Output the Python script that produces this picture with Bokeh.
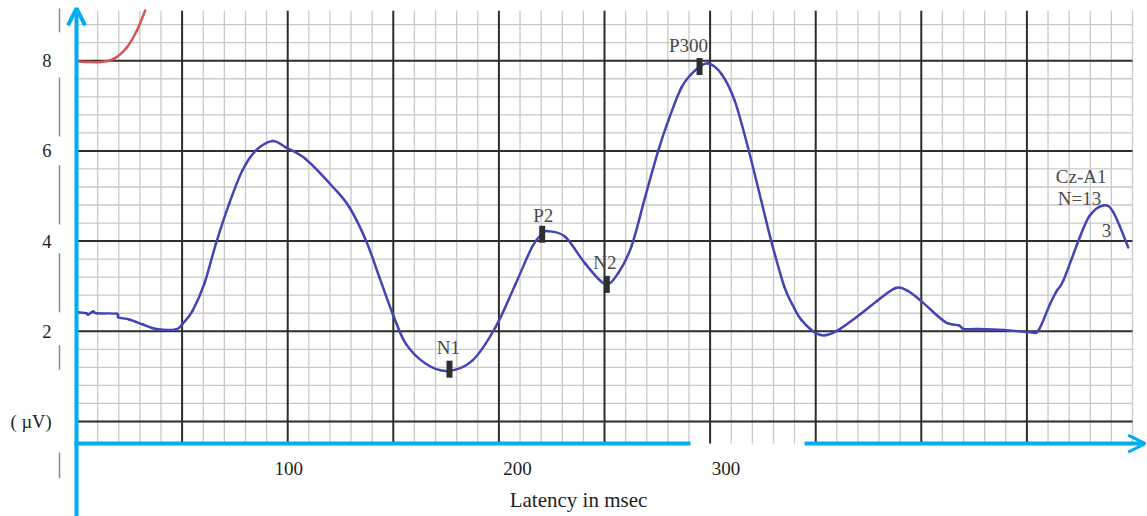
import numpy as np
from bokeh.plotting import figure
from bokeh.models import Range1d, Arrow, OpenHead, ColumnDataSource
from bokeh.core.properties import value
from bokeh.embed import file_html
from bokeh.resources import INLINE

# ---------------- data ----------------
latency_ms = [0.8, 4.7, 5.5, 7.9, 9.5, 19.0, 19.8, 25.0, 31.5, 37.7, 47.0, 50.3, 55.0,
              60.5, 66.0, 72.3, 78.6, 85.0, 92.8, 99.0, 108.5, 121.4, 129.2, 137.1,
              143.4, 149.7, 156.0, 165.4, 175.6, 187.4, 198.4, 207.9, 215.7, 220.4,
              223.6, 231.5, 240.9, 250.3, 256.6, 262.9, 269.2, 275.5, 280.2, 286.5,
              292.8, 299.0, 305.3, 311.6, 317.9, 324.2, 328.9, 335.2, 340.0, 343.1,
              349.4, 354.1, 360.4, 371.4, 379.2, 387.9, 393.4, 399.7, 407.5, 412.3,
              417.8, 420.1, 426.4, 439.0, 451.6, 455.5, 461.0, 464.2, 467.3, 475.1,
              479.8, 486.2, 490.9, 498.0]
amplitude_uv = [2.42, 2.40, 2.37, 2.44, 2.40, 2.39, 2.31, 2.26, 2.15, 2.05, 2.04, 2.17, 2.46,
                3.05, 3.94, 4.83, 5.57, 6.01, 6.22, 6.08, 5.82, 5.20, 4.75, 4.01,
                3.20, 2.39, 1.72, 1.28, 1.12, 1.35, 2.09, 3.05, 3.87, 4.16,
                4.22, 4.09, 3.50, 3.05, 3.30, 3.90, 4.97, 6.01, 6.67, 7.41,
                7.78, 7.94, 7.71, 7.12, 6.08, 4.90, 4.01, 2.98, 2.50, 2.26,
                1.98, 1.91, 2.02, 2.39, 2.68, 2.96, 2.90, 2.68, 2.35, 2.18,
                2.13, 2.05, 2.05, 2.03, 1.98, 2.02, 2.61, 2.90, 3.13, 4.09,
                4.57, 4.79, 4.64, 3.86]

red_latency_ms = [0.3, 11.3, 17.6, 23.9, 28.6, 32.5]
red_amplitude_uv = [7.98, 7.97, 8.04, 8.30, 8.67, 9.11]

peak_names = ["N1", "P2", "N2", "P300"]
peak_latency_ms = [176.6, 220.5, 251.1, 295.0]
peak_amplitude_uv = [1.16, 4.15, 3.04, 7.87]

y_ticks = [0, 2, 4, 6, 8]
y_tick_labels = ["( µV)", "2", "4", "6", "8"]
x_tick_values = [100, 200, 300]
x_tick_labels = ["100", "200", "300"]
x_title = "Latency in msec"

info_texts = ["Cz-A1", "N=13", "3"]
info_latency_ms = [475.7, 474.9, 487.7]
info_amplitude_uv = [5.43, 4.94, 4.24]

# ---------------- layout / style ----------------
W, H = 1147, 516
PX_PER_MS, PX_PER_UV = 2.112, 45.1
LEFT_PX, ZERO_PX = 76, 421            # pixel of 0 ms / 0 uV
X_LO = -LEFT_PX / PX_PER_MS
X_HI = (W - LEFT_PX) / PX_PER_MS
Y_HI = ZERO_PX / PX_PER_UV
Y_LO = (ZERO_PX - H) / PX_PER_UV

GRID_X = (0, 500)         # grid area in data units
GRID_Y = (-0.49, 9.11)

BLUE_AXIS = "#00aeef"
CURVE = "#4444b4"
RED = "#d05555"
DARK = "#2e2e2e"
LIGHT = "#c9c9c9"
FONT = "Liberation Serif"

p = figure(width=W, height=H, output_backend="svg", toolbar_location=None,
           x_range=Range1d(X_LO, X_HI), y_range=Range1d(Y_LO, Y_HI), title=None,
           x_axis_type=None, y_axis_type=None, min_border=0)
p.min_border_left = p.min_border_right = p.min_border_top = p.min_border_bottom = 0
p.outline_line_color = None
p.background_fill_color = "white"
p.border_fill_color = "white"
p.xgrid.visible = False
p.ygrid.visible = False

# ---------------- grid ----------------
vx_minor = np.arange(GRID_X[0], GRID_X[1] + 1, 10)
hy_minor = np.round(np.arange(0, GRID_Y[1], 0.4), 2)
vx_major = np.arange(GRID_X[0], GRID_X[1] + 1, 50)
hy_major = np.arange(0, GRID_Y[1], 2)

p.segment(x0=vx_minor, y0=GRID_Y[0], x1=vx_minor, y1=GRID_Y[1], line_color=LIGHT, line_width=1.3)
p.segment(x0=GRID_X[0], y0=hy_minor, x1=GRID_X[1], y1=hy_minor, line_color=LIGHT, line_width=1.3)
p.segment(x0=vx_major[1:-1], y0=GRID_Y[0], x1=vx_major[1:-1], y1=GRID_Y[1], line_color=DARK, line_width=2)
p.segment(x0=GRID_X[0], y0=hy_major, x1=GRID_X[1], y1=hy_major, line_color=DARK, line_width=2)


# ---------------- curves (smooth Catmull-Rom rendering through the read points) ----------------
def smooth(xs, ys, **kw):
    x = np.asarray(xs, float)
    y = np.asarray(ys, float)
    xp = np.concatenate([[x[0]], x, [x[-1]]])
    yp = np.concatenate([[y[0]], y, [y[-1]]])
    n = len(x)
    i = np.arange(1, n)
    p.bezier(x0=xp[i], y0=yp[i], x1=xp[i + 1], y1=yp[i + 1],
             cx0=xp[i] + (xp[i + 1] - xp[i - 1]) / 6, cy0=yp[i] + (yp[i + 1] - yp[i - 1]) / 6,
             cx1=xp[i + 1] - (xp[i + 2] - xp[i]) / 6, cy1=yp[i + 1] - (yp[i + 2] - yp[i]) / 6,
             line_cap="round", **kw)


smooth(red_latency_ms, red_amplitude_uv, line_color=RED, line_width=2.5)
smooth(latency_ms, amplitude_uv, line_color=CURVE, line_width=2.5)

# ---------------- peak markers and labels ----------------
pk = ColumnDataSource(dict(x=peak_latency_ms, y=peak_amplitude_uv, name=peak_names,
                           dx=[-1, 1, -2, -11], dy=[-21.5, -19, -22, -21]))
p.rect(x="x", y="y", width=6, height=17, width_units="screen", height_units="screen",
       source=pk, fill_color="#2f2f2f", line_color=None)
p.text(x="x", y="y", text="name", x_offset="dx", y_offset="dy", source=pk,
       text_align="center", text_baseline="middle", text_font=value(FONT),
       text_font_size="19px", text_color="#4a4a4a")

p.text(x=info_latency_ms, y=info_amplitude_uv, text=info_texts, text_align="center",
       text_baseline="middle", text_font=value(FONT), text_font_size="19px",
       text_color="#4a4a4a")

# ---------------- tick labels ----------------
p.text(x=[-11.8] * len(y_ticks), y=y_ticks, text=y_tick_labels, text_align="right",
       text_baseline="middle", text_font=value(FONT), text_font_size="18.5px",
       text_color="#1e1e1e")
p.text(x=x_tick_values, y=[-1.04] * len(x_tick_values), text=x_tick_labels,
       x_offset=[1, 18.6, 16], text_align="center", text_baseline="middle",
       text_font=value(FONT), text_font_size="19px", text_color="#1e1e1e")
p.text(x=[237.7], y=[-1.75], text=[x_title], text_align="center", text_baseline="middle",
       text_font=value(FONT), text_font_size="21px", text_color="#1e1e1e")

# ---------------- blue axes with arrows ----------------
p.segment(x0=[0], y0=[Y_LO - 0.2], x1=[0], y1=[9.12], line_color=BLUE_AXIS, line_width=4)
p.add_layout(Arrow(x_start=0, y_start=8.6, x_end=0, y_end=9.16,
                   line_color=BLUE_AXIS, line_width=4, line_alpha=0,
                   end=OpenHead(size=17, line_color=BLUE_AXIS, line_width=4)))
p.segment(x0=[-0.9, 344.7], y0=[GRID_Y[0]] * 2, x1=[290.7, 505.6], y1=[GRID_Y[0]] * 2,
          line_color=BLUE_AXIS, line_width=4)
p.add_layout(Arrow(x_start=500, y_start=GRID_Y[0], x_end=506.0, y_end=GRID_Y[0],
                   line_color=BLUE_AXIS, line_width=4, line_alpha=0,
                   end=OpenHead(size=17, line_color=BLUE_AXIS, line_width=3)))

# ---------------- grey broken guide left of the axis ----------------
g_top = [9.16, 7.63, 5.68, 3.73, 1.69, -0.69]
g_bot = [8.63, 6.32, 4.37, 2.42, 1.15, -1.26]
p.segment(x0=[-8.05] * 6, y0=g_top, x1=[-8.05] * 6, y1=g_bot, line_color="#8c8c8c", line_width=1.5)

open("out.html", "w").write(file_html(p, INLINE))
